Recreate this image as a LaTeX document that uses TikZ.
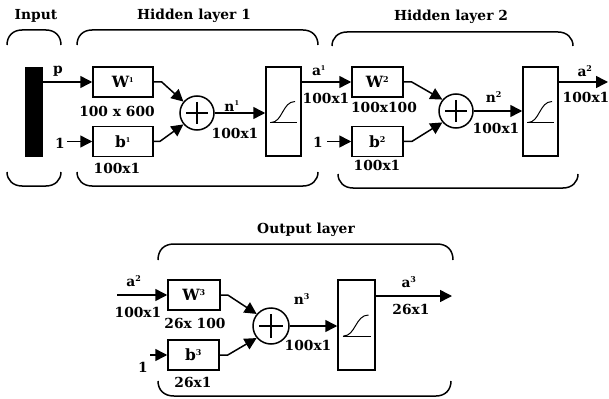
\documentclass[tikz,border=0pt]{standalone}
\usepackage{fontspec}
\setmainfont{DejaVu Serif}
\usetikzlibrary{arrows.meta}
\newcommand{\sps}[1]{\textsuperscript{\fontsize{8}{8}\selectfont #1}}
\newcommand{\spt}[1]{\textsuperscript{\fontsize{6.5}{6.5}\selectfont #1}}
\begin{document}
\begin{tikzpicture}[x=1pt,y=-1pt,
  every node/.style={font=\fontsize{13.8}{14}\selectfont\bfseries, inner sep=0pt},
  blk/.style={draw, line width=1.5pt, minimum width=#1, minimum height=30pt, font=\fontsize{15.5}{16}\selectfont\bfseries},
  sigbox/.style={draw, line width=1.5pt, minimum width=35pt, minimum height=89pt},
  sumnode/.style={draw, circle, line width=1.5pt, minimum size=34pt},
  conn/.style={line width=1.5pt, -{Triangle[length=12pt,width=12pt]}},
  brk/.style={line width=1.5pt},
  sigc/.style={line width=1pt}]
\useasboundingbox (0,0) rectangle (609,398);

% ---------- titles ----------
\node (tIn) at (36,16) {Input};
\node (tH1) at (194,16) {Hidden layer 1};
\node (tH2) at (451,17) {Hidden layer 2};
\node (tOut) at (306,230) {Output layer};

% ---------- brackets ----------
\draw[brk] (7,45) .. controls (7,36) and (13,30) .. (22,30) -- (46,30) .. controls (55,30) and (61,36) .. (61,45);
\draw[brk] (7,172) .. controls (7,180) and (13,186) .. (22,186) -- (46,186) .. controls (55,186) and (61,180) .. (61,172);
\draw[brk] (77,45) .. controls (77,36) and (83,30) .. (92,30) -- (303,30) .. controls (312,30) and (318,36) .. (318,45);
\draw[brk] (77,172) .. controls (77,180) and (83,186) .. (92,186) -- (303,186) .. controls (312,186) and (318,180) .. (318,172);
\draw[brk] (332,46) .. controls (332,38) and (338,32) .. (347,32) -- (558,32) .. controls (567,32) and (573,38) .. (573,46);
\draw[brk] (338,174) .. controls (338,182) and (344,188) .. (353,188) -- (563,188) .. controls (572,188) and (578,182) .. (578,174);
\draw[brk] (158,260) .. controls (158,250) and (164,244) .. (174,244) -- (437,244) .. controls (447,244) and (453,250) .. (453,260);
\draw[brk] (158,381) .. controls (158,390) and (164,396) .. (174,396) -- (436,396) .. controls (445,396) and (451,390) .. (451,381);

% ---------- layer 1 ----------
\node[fill=black, minimum width=18pt, minimum height=90pt] (bar) at (34,112) {};
\node[blk=60pt] (W1) at (123,82) {W\spt{1}};
\node[blk=60pt] (b1) at (123,141.5) {b\spt{1}};
\node[sumnode] (s1) at (197,113) {};
\node[sigbox] (g1) at (283.5,111.5) {};
\coordinate (c1a) at (67,141.5);

\node (lp) at (58,71) {p};
\node (l1a) at (60,143) {1};
\node (lw1d) at (117,111) {100 x 600};
\node (lb1d) at (117,168) {100x1};
\node (ln1) at (232,106) {n\spt{1}};
\node (ln1d) at (235,133) {100x1};

\draw[conn] (bar.east |- W1.west) -- (W1.west);
\draw[conn] (c1a) -- (b1.west);
\draw[conn] (W1.east) -- ++(8,0) -- (s1.140);
\draw[conn] (b1.east) -- ++(6,0) -- (s1.220);
\draw[conn] (s1.east) -- (s1.east -| g1.west);
\draw[line width=1.5pt] (s1.center) ++(-11,0) -- ++(22,0);
\draw[line width=1.5pt] (s1.center) ++(0,-11) -- ++(0,22);
\draw[sigc, shift={(g1.center)}] (-13.5,11) -- (13.5,11);
\draw[sigc, shift={(g1.center)}] (-12.5,11) .. controls (-1,11) and (-1,-10) .. (11.5,-10);

% ---------- layer 2 ----------
\node[blk=51pt] (W2) at (377.5,82) {W\sps{2}};
\node[blk=51pt] (b2) at (377.5,141.5) {b\sps{2}};
\node[sumnode] (s2) at (456,111) {};
\node[sigbox] (g2) at (540.5,111.5) {};
\coordinate (c2a) at (327,141.5);
\coordinate (o2) at (608,82);

\node (la1) at (319,71) {a\spt{1}};
\node (la1d) at (326,98) {100x1};
\node (l1b) at (318,142) {1};
\node (lw2d) at (384,107) {100x100};
\node (lb2d) at (377,165) {100x1};
\node (ln2) at (494,97) {n\sps{2}};
\node (ln2d) at (496,128) {100x1};
\node (la2) at (585,71) {a\sps{2}};
\node (la2d) at (586,97) {100x1};

\draw[conn] (g1.east |- W2.west) -- (W2.west);
\draw[conn] (c2a) -- (b2.west);
\draw[conn] (W2.east) -- ++(8,0) -- (s2.140);
\draw[conn] (b2.east) -- ++(8,0) -- (s2.220);
\draw[conn] (s2.east) -- (s2.east -| g2.west);
\draw[line width=1.5pt] (s2.center) ++(-11,0) -- ++(22,0);
\draw[line width=1.5pt] (s2.center) ++(0,-11) -- ++(0,22);
\draw[sigc, shift={(g2.center)}] (-13.5,11) -- (13.5,11);
\draw[sigc, shift={(g2.center)}] (-12.5,11) .. controls (-1,11) and (-1,-10) .. (11.5,-10);
\draw[conn] (g2.east |- o2) -- (o2);

% ---------- output layer ----------
\node[blk=52pt] (W3) at (194,295) {W\sps{3}};
\node[blk=51pt] (b3) at (193.5,355) {b\sps{3}};
\node[sumnode, minimum size=36pt] (s3) at (271,326) {};
\node[draw, line width=1.5pt, minimum width=37pt, minimum height=90pt] (g3) at (356.5,325) {};
\coordinate (i3) at (117,295);
\coordinate (i3b) at (150,355);
\coordinate (o3) at (452,296);

\node (la2i) at (134,281) {a\sps{2}};
\node (la2id) at (138,312) {100x1};
\node (lw3d) at (195,323) {26x 100};
\node (l1c) at (143,367) {1};
\node (lb3d) at (193,382) {26x1};
\node (ln3) at (302,299) {n\sps{3}};
\node (ln3d) at (308,345) {100x1};
\node (la3) at (409,282) {a\sps{3}};
\node (la3d) at (411,309) {26x1};

\draw[conn] (i3) -- (W3.west);
\draw[conn] (i3b) -- (b3.west);
\draw[conn] (W3.east) -- ++(7,0) -- (s3.140);
\draw[conn] (b3.east) -- ++(8,0) -- (s3.220);
\draw[conn] (s3.east) -- (s3.east -| g3.west);
\draw[line width=1.5pt] (s3.center) ++(-12,0) -- ++(24,0);
\draw[line width=1.5pt] (s3.center) ++(0,-12) -- ++(0,24);
\draw[sigc, shift={(g3.center)}] (-14,11) -- (14,11);
\draw[sigc, shift={(g3.center)}] (-13,11) .. controls (-1,11) and (-1,-10) .. (12,-10);
\draw[conn] (g3.east |- o3) -- (o3);
\end{tikzpicture}
\end{document}
